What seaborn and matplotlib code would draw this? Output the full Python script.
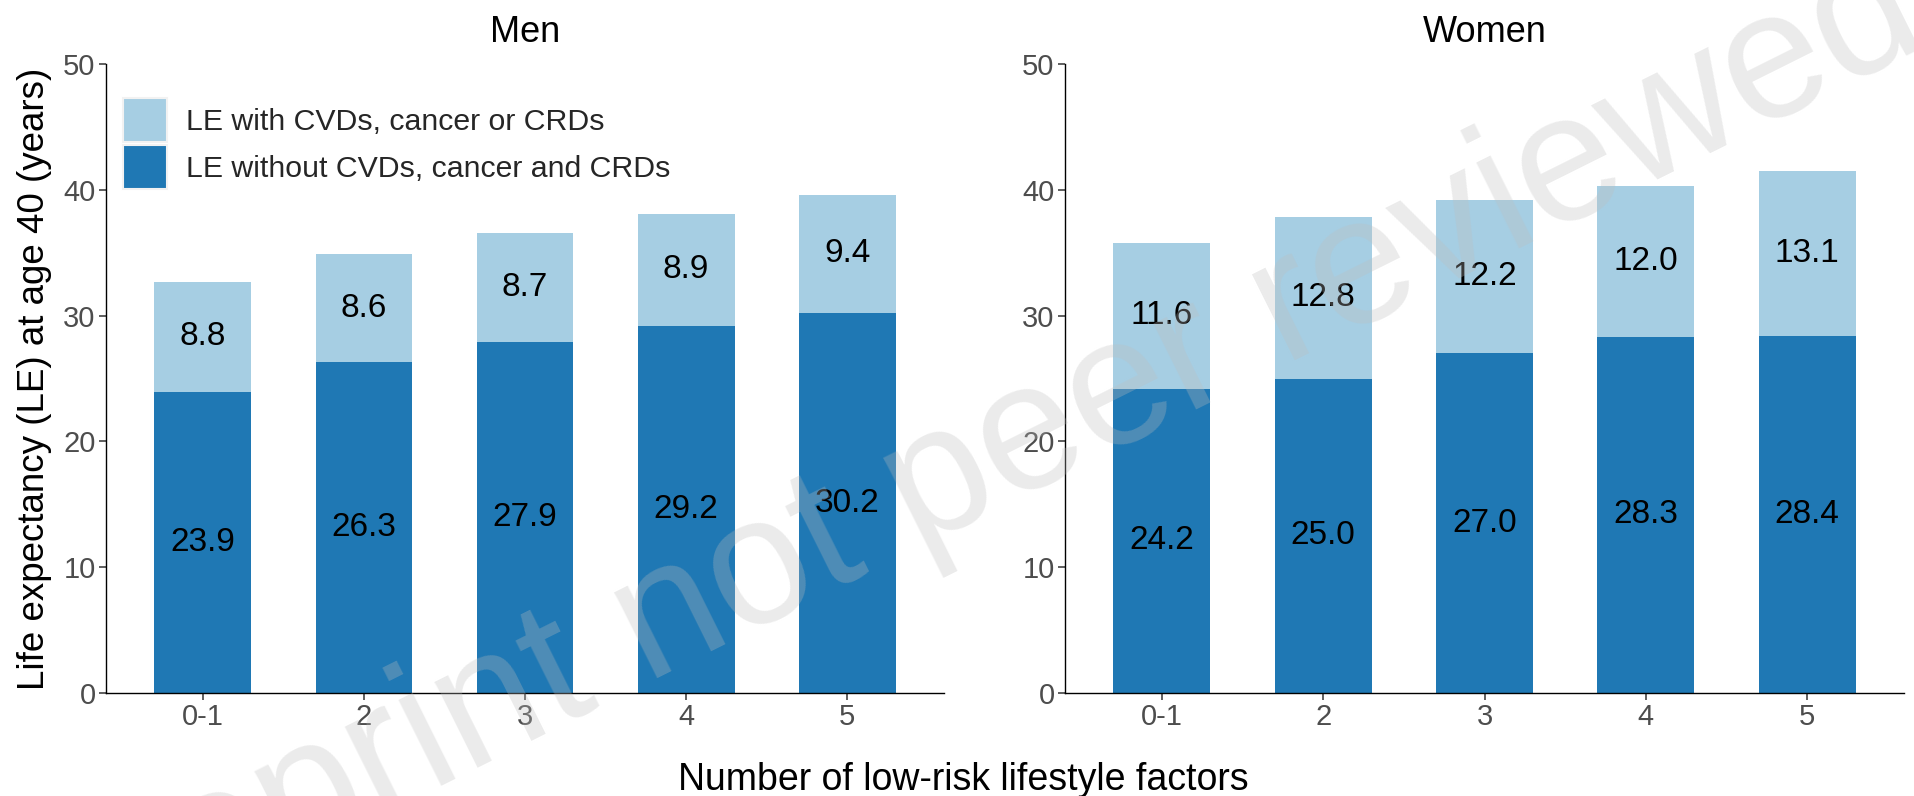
import matplotlib
matplotlib.use("Agg")
import matplotlib.pyplot as plt
from matplotlib.patches import Patch
import seaborn as sns
import numpy as np

# Life expectancy at age 40, split into years with / without major chronic disease
factors = ["0-1", "2", "3", "4", "5"]
men_without = [23.9, 26.3, 27.9, 29.2, 30.2]
men_with = [8.8, 8.6, 8.7, 8.9, 9.4]
women_without = [24.2, 25.0, 27.0, 28.3, 28.4]
women_with = [11.6, 12.8, 12.2, 12.0, 13.1]

panel_titles = ["Men", "Women"]
legend_labels = ["LE with CVDs, cancer or CRDs", "LE without CVDs, cancer and CRDs"]
y_label = "Life expectancy (LE) at age 40 (years)"
x_label = "Number of low-risk lifestyle factors"
y_ticks = [0, 10, 20, 30, 40, 50]

light_blue = "#A6CEE3"
dark_blue = "#1F78B4"
tick_grey = "#4D4D4D"

sns.set_theme(style="ticks")
plt.rcParams["font.family"] = ["Liberation Sans", "DejaVu Sans"]

W, H = 1914, 796
fig = plt.figure(figsize=(W / 100, H / 100), dpi=100)

def px_axes(x0, y0, x1, y1):
    return fig.add_axes([x0 / W, 1 - y1 / H, (x1 - x0) / W, (y1 - y0) / H])

ax_men = px_axes(106, 64, 944, 693)
ax_women = px_axes(1065, 64, 1904, 693)

panels = [
    (men_without, men_with),
    (women_without, women_with),
]

for ax, title, (without, with_) in zip([ax_men, ax_women], panel_titles, panels):
    without = np.array(without)
    with_ = np.array(with_)
    totals = without + with_
    sns.barplot(x=factors, y=totals, color=light_blue, saturation=1, width=0.6,
                ax=ax, errorbar=None, order=factors, linewidth=0, edgecolor="none")
    sns.barplot(x=factors, y=without, color=dark_blue, saturation=1, width=0.6,
                ax=ax, errorbar=None, order=factors, linewidth=0, edgecolor="none")
    for i in range(len(factors)):
        ax.text(i, without[i] / 2, f"{without[i]:.1f}", ha="center", va="center",
                fontsize=24, color="black")
        ax.text(i, without[i] + with_[i] / 2, f"{with_[i]:.1f}", ha="center",
                va="center", fontsize=24, color="black")
    ax.set_xlim(-0.6, 4.6)
    ax.set_ylim(0, 50)
    ax.set_yticks(y_ticks)
    ax.set_xlabel("")
    ax.set_ylabel("")
    ax.set_title(title, fontsize=26, pad=16, color="black")
    for s in ["top", "right"]:
        ax.spines[s].set_visible(False)
    for s in ["left", "bottom"]:
        ax.spines[s].set_color("black")
        ax.spines[s].set_linewidth(1.0)
    ax.tick_params(axis="both", labelsize=21, labelcolor=tick_grey, color="#333333",
                   length=5, width=1.1, pad=2.5)

ax_men.set_ylabel(y_label, fontsize=26.5, color="black", labelpad=8)

handles = [Patch(facecolor=light_blue, edgecolor="#F2F2F2", linewidth=1.5),
           Patch(facecolor=dark_blue, edgecolor="#F2F2F2", linewidth=1.5)]
ax_men.legend(handles, legend_labels, loc="upper left",
              bbox_to_anchor=((123 - 106) / 838, 1 - (98 - 64) / 629),
              frameon=False, fontsize=21.8, handlelength=1.45, handleheight=1.86,
              labelspacing=0.1, handletextpad=0.62, borderaxespad=0, borderpad=0)

fig.text(963 / W, 1 - 790 / H, x_label, ha="center", va="baseline",
         fontsize=27, color="black")

# faint diagonal watermark across the whole figure
fig.text(983 / W, 1 - 516 / H, "Preprint not peer reviewed", ha="center",
         va="baseline", rotation=26.5, rotation_mode="anchor", fontsize=130,
         color=(0.745, 0.745, 0.745), alpha=0.3, zorder=100)

fig.savefig("out.png", dpi=100)
